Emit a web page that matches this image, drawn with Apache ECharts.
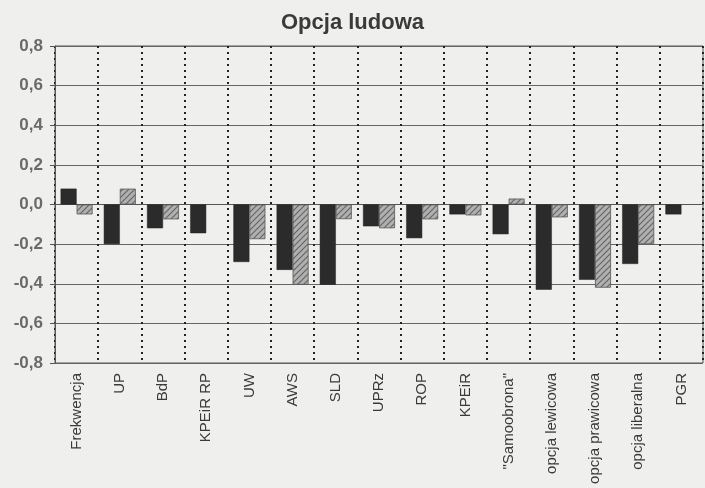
<!DOCTYPE html>
<html><head><meta charset="utf-8">
<script src="https://cdn.jsdelivr.net/npm/echarts@6/dist/echarts.min.js"></script>
<style>html,body{margin:0;padding:0;background:#efefed;}#c{width:705px;height:488px;}</style>
</head><body><div id="c"></div>
<script>
const title = 'Opcja ludowa';
const categories = ['Frekwencja','UP','BdP','KPEiR RP','UW','AWS','SLD','UPRz','ROP','KPEiR','"Samoobrona"','opcja lewicowa','opcja prawicowa','opcja liberalna','PGR'];
const seriesDark = [0.08,-0.20,-0.12,-0.145,-0.29,-0.33,-0.405,-0.11,-0.17,-0.05,-0.15,-0.43,-0.38,-0.30,-0.05];
const seriesHatched = [-0.05,0.08,-0.075,0,-0.175,-0.405,-0.074,-0.12,-0.075,-0.055,0.03,-0.065,-0.42,-0.20,0];
const yTicks = {min:-0.8, max:0.8, interval:0.2};

const pc = document.createElement('canvas');
pc.width = 6; pc.height = 6;
const g = pc.getContext('2d');
g.fillStyle = '#b0b0b0'; g.fillRect(0,0,6,6);
g.strokeStyle = '#666'; g.lineWidth = 1.2;
g.beginPath(); g.moveTo(0,6); g.lineTo(6,0); g.moveTo(-3,3); g.lineTo(3,-3); g.moveTo(3,9); g.lineTo(9,3); g.stroke();

const chart = echarts.init(document.getElementById('c'));
chart.setOption({
  backgroundColor:'#efefed',
  animation:false,
  title:{text:title,left:'center',top:7,textStyle:{fontFamily:'Liberation Sans',fontSize:22,fontWeight:'bold',color:'#3a3a3a'}},
  grid:{left:55,right:2,top:46,bottom:125,show:true,borderColor:'#555',borderWidth:1,backgroundColor:'transparent'},
  xAxis:{type:'category',data:categories,
    axisLine:{lineStyle:{color:'#555'}},axisTick:{show:false},
    axisLabel:{rotate:90,interval:0,fontFamily:'Liberation Sans',fontSize:15,color:'#3a3a3a',margin:10},
    splitLine:{show:true,interval:0,lineStyle:{type:[2,4],color:'#222',width:2}}},
  yAxis:{type:'value',min:yTicks.min,max:yTicks.max,interval:yTicks.interval,
    axisLine:{show:true,lineStyle:{color:'#555'}},axisTick:{show:true,length:5,lineStyle:{color:'#555'}},
    axisLabel:{fontFamily:'Liberation Sans',fontSize:17,fontWeight:'bold',color:'#6a6a6a',margin:12,
      formatter:v=>v.toFixed(1).replace('.',',')},
    splitLine:{lineStyle:{color:'#666',width:1}}},
  series:[
    {type:'bar',data:seriesDark,barWidth:16,barGap:'0%',itemStyle:{color:'#2b2b2b',borderColor:'#222',borderWidth:0.5}},
    {type:'bar',data:seriesHatched,barWidth:16,itemStyle:{color:{image:pc,repeat:'repeat'},borderColor:'#555',borderWidth:0.8}}
  ]
});
</script></body></html>
